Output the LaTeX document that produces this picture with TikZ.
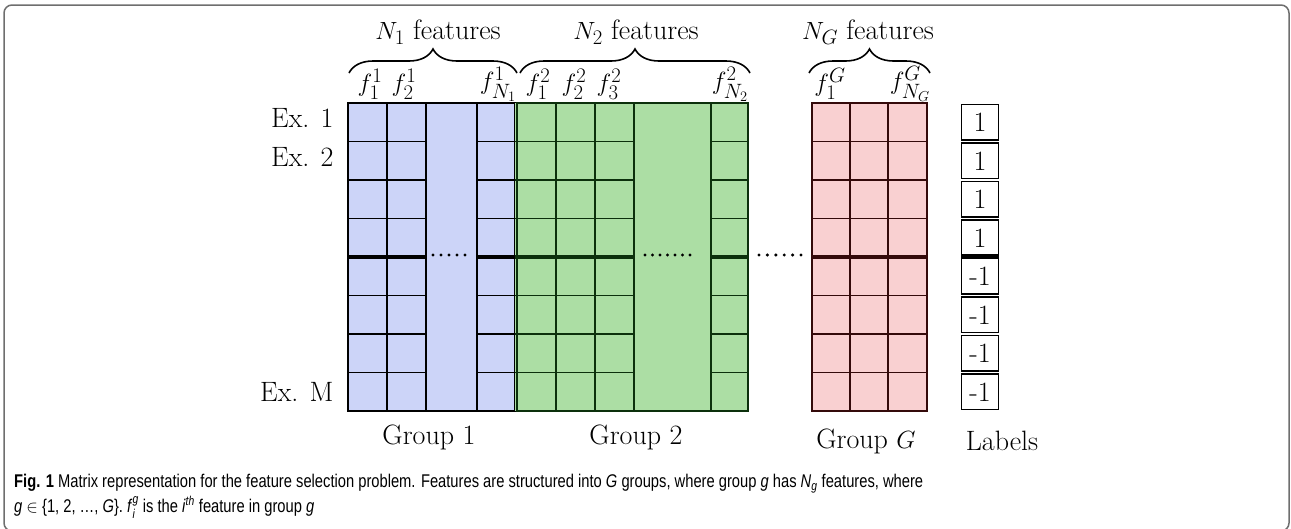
\documentclass[tikz,border=0pt]{standalone}
\usepackage{amsmath}
\usepackage{fontspec}
\usetikzlibrary{decorations.pathreplacing}
\newfontfamily\capfont[FakeStretch=0.80]{Liberation Sans}
\definecolor{groupblue}{RGB}{204,212,248}
\definecolor{groupgreen}{RGB}{172,222,164}
\definecolor{groupred}{RGB}{249,208,209}
\definecolor{greenline}{RGB}{12,48,12}
\definecolor{redline}{RGB}{52,10,10}
\definecolor{framegray}{RGB}{110,110,110}

\begin{document}
\begin{tikzpicture}[x=1pt, y=-1pt, font=\fontsize{28}{33}\selectfont]
% Define styles
\tikzstyle{grid} = [line width=1.8pt]
\tikzstyle{midline} = [line width=3.6pt]
\tikzstyle{labelbox} = [rectangle, draw=black, line width=1.4pt, minimum width=36.5pt, minimum height=35.5pt, inner sep=0pt, fill=white]
\tikzstyle{colname} = [inner sep=0pt]
\tikzstyle{brace} = [decorate, decoration={brace, amplitude=24pt}, line width=1.6pt]
\tikzstyle{dot} = [fill=black]

\useasboundingbox (0,0) rectangle (1291,528);
\draw [framegray, line width=1.5pt, rounded corners=8pt] (4,5) rectangle (1289,531);

% Group 1
\fill [groupblue] (348,103) rectangle (515,411);
\foreach \x in {387,426,477}
  \draw [grid] (\x,103) -- (\x,411);
\foreach \r in {1,2,3,5,6,7} {
  \draw [grid] (348,103+38.5*\r) -- (426,103+38.5*\r);
  \draw [grid] (477,103+38.5*\r) -- (515,103+38.5*\r);
}
\draw [midline] (348,257) -- (426,257);
\draw [midline] (477,257) -- (515,257);
\draw [grid] (348,103) rectangle (515,411);

% Group 2
\fill [groupgreen] (515,103) rectangle (748,411);
\foreach \x in {556,595,634,711}
  \draw [grid, greenline] (\x,103) -- (\x,411);
\foreach \r in {1,2,3,5,6,7} {
  \draw [grid, greenline] (515,103+38.5*\r) -- (634,103+38.5*\r);
  \draw [grid, greenline] (711,103+38.5*\r) -- (748,103+38.5*\r);
}
\draw [midline, greenline] (515,257) -- (634,257);
\draw [midline, greenline] (711,257) -- (748,257);
\draw [grid, greenline] (517,103) rectangle (748,411);

% Group G
\fill [groupred] (812,103) rectangle (927,411);
\foreach \x in {850,888}
  \draw [grid, redline] (\x,103) -- (\x,411);
\foreach \r in {1,2,3,5,6,7}
  \draw [grid, redline] (812,103+38.5*\r) -- (927,103+38.5*\r);
\draw [midline, redline] (812,257) -- (927,257);
\draw [grid, redline] (812,103) rectangle (927,411);

% dots for the skipped columns
\foreach \x in {0,...,4}
  \fill [dot] (433+8*\x,255) circle (1.7pt);
\foreach \x in {0,...,6}
  \fill [dot] (645+7.5*\x,255) circle (1.7pt);
\foreach \x in {0,...,5}
  \fill [dot] (759+8.4*\x,255) circle (1.7pt);

% Labels column
\foreach \i/\v in {1/1,2/1,3/1,4/1,5/-1,6/-1,7/-1,8/-1}
  \node [labelbox] (lab\i) at (980,103+38.5*\i-19.25) {\v};
\draw [midline] (lab4.south west) -- (lab4.south east);

% Row names
\node [anchor=east] (ex1) at (337,118) {Ex. 1};
\node [anchor=east] (ex2) at (337,157) {Ex. 2};
\node [anchor=east] (exm) at (337,392) {Ex. M};

% Column names
\node [colname] (f11) at (370,84) {$f_1^1$};
\node [colname] (f21) at (404,84) {$f_2^1$};
\node [colname] (fn1) at (498,84) {$f_{N_1}^1$};
\node [colname] (f12) at (538,84) {$f_1^2$};
\node [colname] (f22) at (574,84) {$f_2^2$};
\node [colname] (f32) at (609,84) {$f_3^2$};
\node [colname] (fn2) at (730,84) {$f_{N_2}^2$};
\node [colname] (f1g) at (830,84) {$f_1^G$};
\node [colname] (fng) at (910,84) {$f_{N_G}^G$};

% Braces over the groups
\coordinate (b1s) at (349,73);
\coordinate (b1e) at (517,73);
\coordinate (b2s) at (520,73);
\coordinate (b2e) at (750,73);
\coordinate (bgs) at (809,73);
\coordinate (bge) at (930,73);
\draw [brace] (b1s) -- (b1e);
\draw [brace] (b2s) -- (b2e);
\draw [brace] (bgs) -- (bge);
\node (n1) at (438,32) {$N_1$ features};
\node (n2) at (636,32) {$N_2$ features};
\node (ng) at (868,32) {$N_G$ features};

% Group names
\node (g1) at (429,437) {Group 1};
\node (g2) at (636,437) {Group 2};
\node (gg) at (866,441) {Group $G$};
\node (labels) at (1002,441) {Labels};

% Caption
\node [anchor=north west, align=left, inner sep=0pt, font=\capfont\fontsize{18.4}{24.5}\selectfont] (caption) at (14,474)
  {\textbf{Fig. 1} Matrix representation for the feature selection problem. Features are structured into \textit{G} groups, where group \textit{g} has \textit{N}$_{\textit{g}}$ features, where\\
   \textit{g} $\in$ \{1, 2, \ldots, \textit{G}\}. \textit{f}$^{\textit{g}}_{\textit{i}}$ is the \textit{i}$^{\textit{th}}$ feature in group \textit{g}};
\end{tikzpicture}
\end{document}
